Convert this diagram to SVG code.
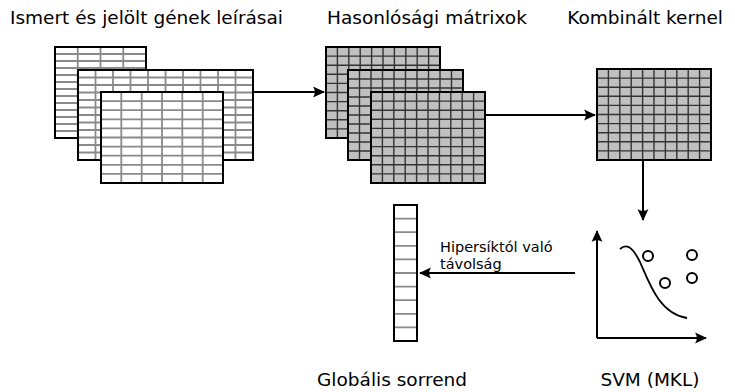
<svg xmlns="http://www.w3.org/2000/svg" width="735" height="392" viewBox="0 0 735 392">
<defs>
<style>
.t{font-family:"DejaVu Sans","Liberation Sans",sans-serif;fill:#000}
.ttl{font-size:18.5px}
.lbl{font-size:14.5px}
.wt{fill:#fff;stroke:none}
.wg{fill:none;stroke:#8a8a8a;stroke-width:1.8}
.gt{fill:#c0c0c0;stroke:none}
.gg{fill:none;stroke:#333;stroke-width:1.4}
.bd{fill:none;stroke:#000;stroke-width:2}
.ar{fill:none;stroke:#000;stroke-width:2}
</style>
<marker id="ah" viewBox="-11 -6 14 12" markerWidth="14" markerHeight="12" refX="1" refY="0" orient="auto" markerUnits="userSpaceOnUse">
<path d="M2,0 L-10,-5.5 C-7.5,-2 -7.5,2 -10,5.5 Z" fill="#000"/>
</marker>
</defs>
<rect width="735" height="392" fill="#fff"/>

<g id="title-descriptions"><text class="t ttl" x="10" y="24">Ismert és jelölt gének leírásai</text></g>
<g id="title-similarity"><text class="t ttl" x="327" y="24">Hasonlósági mátrixok</text></g>
<g id="title-kernel"><text class="t ttl" x="723" y="24" text-anchor="end">Kombinált kernel</text></g>

<g id="tables">
<g id="table1">
<rect class="wt" x="55" y="47" width="91" height="91"/>
<path class="wg" d="M77.75,47V138M100.5,47V138M123.25,47V138M55,54H146M55,61H146M55,68H146M55,75H146M55,82H146M55,89H146M55,96H146M55,103H146M55,110H146M55,117H146M55,124H146M55,131H146"/>
<rect class="bd" x="55" y="47" width="91" height="91"/>
</g>
<g id="table2">
<rect class="wt" x="78" y="70" width="175" height="90"/>
<path class="wg" d="M95.5,70V160M113,70V160M130.5,70V160M148,70V160M165.5,70V160M183,70V160M200.5,70V160M218,70V160M235.5,70V160M78,77.5H253M78,85H253M78,92.5H253M78,100H253M78,107.5H253M78,115H253M78,122.5H253M78,130H253M78,137.5H253M78,145H253M78,152.5H253"/>
<rect class="bd" x="78" y="70" width="175" height="90"/>
</g>
<g id="table3">
<rect class="wt" x="101" y="92" width="122" height="91"/>
<path class="wg" d="M121.3,92V183M141.7,92V183M162,92V183M182.3,92V183M202.7,92V183M101,101.1H223M101,110.2H223M101,119.3H223M101,128.4H223M101,137.5H223M101,146.6H223M101,155.7H223M101,164.8H223M101,173.9H223"/>
<rect class="bd" x="101" y="92" width="122" height="91"/>
</g>
</g>

<g id="matrices">
<g id="matrix1">
<rect class="gt" x="326" y="47" width="114" height="91"/>
<path class="gg" d="M337.4,47V138M348.8,47V138M360.2,47V138M371.6,47V138M383,47V138M394.4,47V138M405.8,47V138M417.2,47V138M428.6,47V138M326,56.1H440M326,65.2H440M326,74.3H440M326,83.4H440M326,92.5H440M326,101.6H440M326,110.7H440M326,119.8H440M326,128.9H440"/>
<rect class="bd" x="326" y="47" width="114" height="91"/>
</g>
<g id="matrix2">
<rect class="gt" x="348" y="70" width="115" height="90"/>
<path class="gg" d="M359.5,70V160M371,70V160M382.5,70V160M394,70V160M405.5,70V160M417,70V160M428.5,70V160M440,70V160M451.5,70V160M348,79H463M348,88H463M348,97H463M348,106H463M348,115H463M348,124H463M348,133H463M348,142H463M348,151H463"/>
<rect class="bd" x="348" y="70" width="115" height="90"/>
</g>
<g id="matrix3">
<rect class="gt" x="371" y="92" width="114" height="91"/>
<path class="gg" d="M382.4,92V183M393.8,92V183M405.2,92V183M416.6,92V183M428,92V183M439.4,92V183M450.8,92V183M462.2,92V183M473.6,92V183M371,101.1H485M371,110.2H485M371,119.3H485M371,128.4H485M371,137.5H485M371,146.6H485M371,155.7H485M371,164.8H485M371,173.9H485"/>
<rect class="bd" x="371" y="92" width="114" height="91"/>
</g>
</g>

<g id="kernel">
<rect class="gt" x="597" y="69" width="114" height="91"/>
<path class="gg" d="M608.4,69V160M619.8,69V160M631.2,69V160M642.6,69V160M654,69V160M665.4,69V160M676.8,69V160M688.2,69V160M699.6,69V160M597,78.1H711M597,87.2H711M597,96.3H711M597,105.4H711M597,114.5H711M597,123.6H711M597,132.7H711M597,141.8H711M597,150.9H711"/>
<rect class="bd" x="597" y="69" width="114" height="91"/>
</g>

<g id="ranking">
<rect class="wt" x="394" y="205" width="23" height="136"/>
<path class="wg" d="M394,218.6H417M394,232.2H417M394,245.8H417M394,259.4H417M394,273H417M394,286.6H417M394,300.2H417M394,313.8H417M394,327.4H417"/>
<rect class="bd" x="394" y="205" width="23" height="136"/>
</g>

<g id="svm">
<path class="ar" d="M597,338V231" marker-end="url(#ah)"/>
<path class="ar" d="M597,338H706" marker-end="url(#ah)"/>
<path fill="none" stroke="#000" stroke-width="1.8" d="M620,249C628,242 634,250 640,262C650,285 660,314 687,318"/>
<circle cx="648" cy="256" r="5" fill="#fff" stroke="#000" stroke-width="2"/>
<circle cx="665" cy="283" r="5" fill="#fff" stroke="#000" stroke-width="2"/>
<circle cx="692" cy="255" r="5" fill="#fff" stroke="#000" stroke-width="2"/>
<circle cx="692" cy="278" r="5" fill="#fff" stroke="#000" stroke-width="2"/>
</g>

<g id="connectors">
<path class="ar" d="M253,92H324" marker-end="url(#ah)"/>
<path class="ar" d="M485,115H595" marker-end="url(#ah)"/>
<path class="ar" d="M643,160V220" marker-end="url(#ah)"/>
<path class="ar" d="M575,273H420" marker-end="url(#ah)"/>
</g>

<g id="edge-label">
<text class="t lbl" x="440" y="252">Hipersíktól való</text>
<text class="t lbl" x="440" y="269">távolság</text>
</g>

<g id="label-ranking"><text class="t ttl" x="392" y="386" text-anchor="middle">Globális sorrend</text></g>
<g id="label-svm"><text class="t ttl" x="650" y="386" text-anchor="middle">SVM (MKL)</text></g>
</svg>
